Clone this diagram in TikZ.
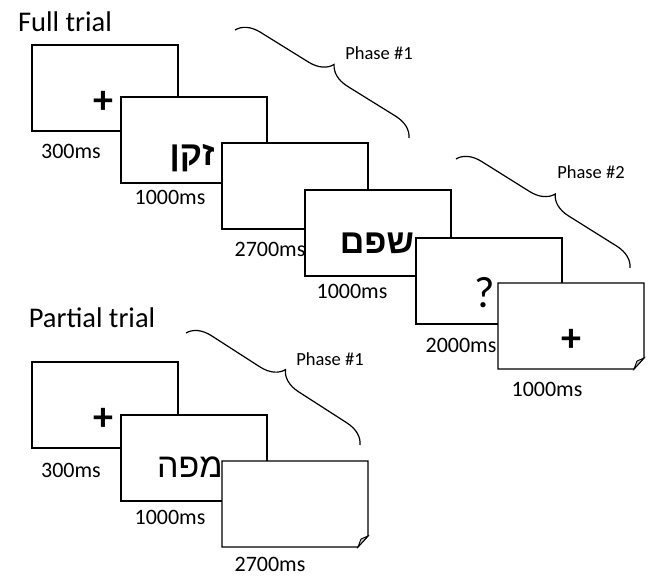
\documentclass[tikz,border=0pt]{standalone}
\usepackage{fontspec}
\setmainfont{Carlito}
\newfontfamily\hebfont[Script=Hebrew]{Liberation Sans}
\TeXXeTstate=1
\usetikzlibrary{calc}
\usetikzlibrary{decorations.pathreplacing}

\tikzset{
  screen/.style={draw, fill=white, line width=1.2pt, minimum width=146pt, minimum height=86pt, inner sep=0pt, outer sep=0pt, anchor=north west},
  fold/.style={line width=0.9pt, fill=gray!45},
  dur/.style={font=\fontsize{22}{24}\selectfont, inner sep=0pt},
  title/.style={font=\fontsize{28.5}{30}\selectfont, inner sep=0pt},
  phaselabel/.style={font=\fontsize{18.5}{20}\selectfont, inner sep=0pt},
  cross/.style={font=\bfseries\fontsize{40}{40}\selectfont, inner sep=0pt},
  query/.style={font=\fontsize{44}{44}\selectfont, inner sep=0pt},
  heb/.style={font=\hebfont\fontsize{34}{36}\selectfont, inner sep=0pt},
  hebbold/.style={font=\hebfont\bfseries\fontsize{34}{36}\selectfont, inner sep=0pt},
  phase/.style={decorate, decoration={brace, amplitude=23pt}, line width=1.2pt}
}

\begin{document}
\begin{tikzpicture}[x=1pt,y=-1pt]
        \useasboundingbox (0,0) rectangle (648,577);

        % Full trial
        \node[title] (fulltitle) at (65,22) {Full trial};

        \foreach \n/\x/\y/\t/\lx/\ly in {1/32/45/300ms/39/20, 2/121/97/1000ms/49/14, 3/222/143/2700ms/48/20, 4/305/190/1000ms/47/15, 5/416/238/2000ms/45/21}
        {
          \node[screen] (full\n) at (\x,\y) {};
          \node[dur] (fulldur\n) at ($(full\n.south west)+(\lx,\ly)$) {\t};
        }

        % last screen, folded corner
        \node[screen, draw=none, fill=none] (full6) at (498,283) {};
        \filldraw[fill=white, line width=1.2pt] (full6.north west) -- (full6.north east) -- ($(full6.south east)+(0,-11)$) -- ($(full6.south east)+(-10,0)$) -- (full6.south west) -- cycle;
        \draw[fold] ($(full6.south east)+(0,-11)$) -- ($(full6.south east)+(-10,0)$) -- ($(full6.south east)+(-7,-8)$) -- cycle;
        \node[dur] (fulldur6) at ($(full6.south west)+(49,20)$) {1000ms};

        % Stimuli
        \node[cross] (fullfix1) at ($(full1.center)+(-2,14)$) {+};
        \node[hebbold] (fullword1) at ($(full2.center)+(-2,18)$) {\beginR זקן\endR};
        \node[hebbold] (fullword2) at ($(full4.center)+(-1,10)$) {\beginR שפם\endR};
        \node[query] (fullq) at ($(full5.center)+(-4,12)$) {?};
        \node[cross] (fullfix2) at ($(full6.center)+(0,14)$) {+};

        % Phases
        \coordinate (fullph1a) at (235,30);
        \coordinate (fullph1b) at (409,138);
        \draw[phase] (fullph1a) -- (fullph1b);
        \node[phaselabel] (fullph1) at (379,53) {Phase \#1};

        \coordinate (fullph2a) at (456,159);
        \coordinate (fullph2b) at (630,268);
        \draw[phase] (fullph2a) -- (fullph2b);
        \node[phaselabel] (fullph2) at (591,172) {Phase \#2};

        % Partial trial
        \node[title] (parttitle) at (92,318) {Partial trial};

        \node[screen] (part1) at (32,362) {};
        \node[dur] (partdur1) at ($(part1.south west)+(39,22)$) {300ms};
        \node[cross] (partfix) at ($(part1.center)+(-2,14)$) {+};

        \node[screen] (part2) at (121,415) {};
        \node[dur] (partdur2) at ($(part2.south west)+(49,16)$) {1000ms};
        \node[heb] (partword) at ($(part2.center)+(-4,9)$) {\beginR מפה\endR};

        \node[screen, draw=none, fill=none] (part3) at (222,461) {};
        \filldraw[fill=white, line width=1.2pt] (part3.north west) -- (part3.north east) -- ($(part3.south east)+(0,-11)$) -- ($(part3.south east)+(-10,0)$) -- (part3.south west) -- cycle;
        \draw[fold] ($(part3.south east)+(0,-11)$) -- ($(part3.south east)+(-10,0)$) -- ($(part3.south east)+(-7,-8)$) -- cycle;
        \node[dur] (partdur3) at ($(part3.south west)+(48,17)$) {2700ms};

        \coordinate (partph1a) at (186,333);
        \coordinate (partph1b) at (360,445);
        \draw[phase] (partph1a) -- (partph1b);
        \node[phaselabel] (partph1) at (330,359) {Phase \#1};
\end{tikzpicture}
\end{document}
